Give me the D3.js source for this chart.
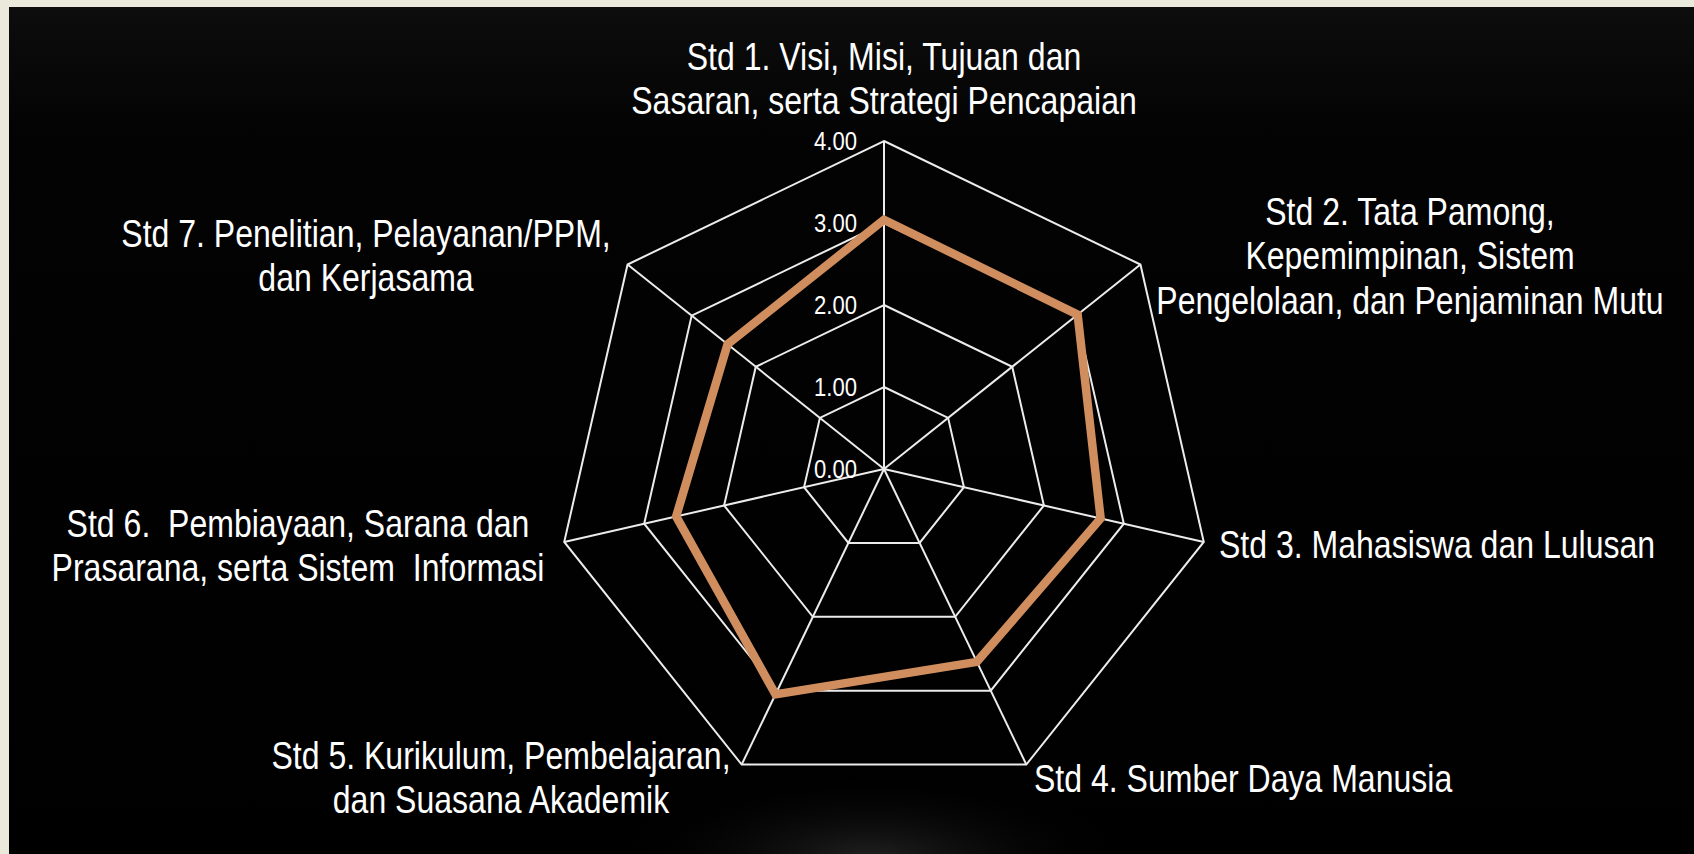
<!DOCTYPE html>
<meta charset="utf-8">
<style>
body { margin: 0; background: #ebe8dc; overflow: hidden; }
svg { display: block; }
text { font-family: 'Liberation Sans', Arial, sans-serif; fill: #fff; white-space: pre; }
</style>
<body>
<script src="https://cdn.jsdelivr.net/npm/d3@7/dist/d3.min.js"></script>
<script>
var categories = [
    ['Std 1. Visi, Misi, Tujuan dan', 'Sasaran, serta Strategi Pencapaian'],
    ['Std 2. Tata Pamong,', 'Kepemimpinan, Sistem', 'Pengelolaan, dan Penjaminan Mutu'],
    ['Std 3. Mahasiswa dan Lulusan'],
    ['Std 4. Sumber Daya Manusia'],
    ['Std 5. Kurikulum, Pembelajaran,', 'dan Suasana Akademik'],
    ['Std 6.  Pembiayaan, Sarana dan', 'Prasarana, serta Sistem  Informasi'],
    ['Std 7. Penelitian, Pelayanan/PPM,', 'dan Kerjasama']
]
var scores = [3.04, 3.02, 2.71, 2.61, 3.05, 2.60, 2.44]
var tickValues = [0, 1, 2, 3, 4]
var tickLabels = ['0.00', '1.00', '2.00', '3.00', '4.00']

// where each category label sits (first baseline) and how it is anchored
var labelPos = [
    { x: 884, y: 70, anchor: 'middle' },
    { x: 1410, y: 225, anchor: 'middle' },
    { x: 1219, y: 558, anchor: 'start' },
    { x: 1034, y: 792, anchor: 'start' },
    { x: 501, y: 769, anchor: 'middle' },
    { x: 298, y: 537, anchor: 'middle' },
    { x: 366, y: 247, anchor: 'middle' }
]

var width = 1694
var height = 854
var cx = 884
var cy = 469
var n = categories.length

var svg = d3.select('body').append('svg')
    .attr('width', width)
    .attr('height', height)

var defs = svg.append('defs')
var bg = defs.append('linearGradient').attr('id', 'bg').attr('x1', 0).attr('y1', 0).attr('x2', 0).attr('y2', 1)
bg.append('stop').attr('offset', 0).attr('stop-color', '#0d0d0d')
bg.append('stop').attr('offset', 0.15).attr('stop-color', '#030303')
bg.append('stop').attr('offset', 1).attr('stop-color', '#000')
var glow = defs.append('radialGradient').attr('id', 'glow')
    .attr('cx', 0.5).attr('cy', 0.5).attr('r', 0.5)
glow.append('stop').attr('offset', 0).attr('stop-color', '#222')
glow.append('stop').attr('offset', 1).attr('stop-color', '#000').attr('stop-opacity', 0)

svg.append('rect')
    .attr('x', 9).attr('y', 7)
    .attr('width', width - 9).attr('height', height - 7)
    .attr('fill', 'url(#bg)')
svg.append('ellipse')
    .attr('cx', 870).attr('cy', 860)
    .attr('rx', 260).attr('ry', 90)
    .attr('fill', 'url(#glow)')

var r = d3.scaleLinear().domain([0, 4]).range([0, 328])
var angle = d3.scaleLinear().domain([0, n]).range([0, 2 * Math.PI])

function pt(i, v) {
    var a = angle(i)
    return [cx + r(v) * Math.sin(a), cy - r(v) * Math.cos(a)]
}

var g = svg.append('g')

// rings
g.selectAll('.ring')
    .data(tickValues.filter(function (d) { return d > 0 }))
    .enter().append('polygon')
    .attr('points', function (v) {
        return d3.range(n).map(function (i) { return pt(i, v).join(',') }).join(' ')
    })
    .attr('fill', 'none')
    .attr('stroke', '#ececec')
    .attr('stroke-width', 2)

// spokes
g.selectAll('.spoke')
    .data(d3.range(n))
    .enter().append('line')
    .attr('x1', cx).attr('y1', cy)
    .attr('x2', function (i) { return pt(i, 4)[0] })
    .attr('y2', function (i) { return pt(i, 4)[1] })
    .attr('stroke', '#ececec')
    .attr('stroke-width', 2)

// tick labels
g.selectAll('.tick')
    .data(tickValues)
    .enter().append('text')
    .attr('transform', function (v) { return 'translate(857,' + (cy - r(v) + 9) + ') scale(0.85,1)' })
    .attr('text-anchor', 'end')
    .style('font-size', '26px')
    .text(function (v, i) { return tickLabels[i] })

// series
var line = d3.line()
    .x(function (d, i) { return pt(i, d)[0] })
    .y(function (d, i) { return pt(i, d)[1] })
    .curve(d3.curveLinearClosed)

g.append('path')
    .attr('d', line(scores))
    .attr('fill', 'none')
    .attr('stroke', '#d08e5f')
    .attr('stroke-width', 8.5)
    .attr('stroke-linejoin', 'miter')

// category labels
categories.forEach(function (lines, i) {
    var p = labelPos[i]
    var t = g.append('g')
        .attr('transform', 'translate(' + p.x + ',' + p.y + ') scale(0.843,1)')
    t.selectAll('text')
        .data(lines)
        .enter().append('text')
        .attr('y', function (d, j) { return j * 44.5 })
        .attr('text-anchor', p.anchor)
        .style('font-size', '38px')
        .text(function (d) { return d })
})
</script>
</body>
